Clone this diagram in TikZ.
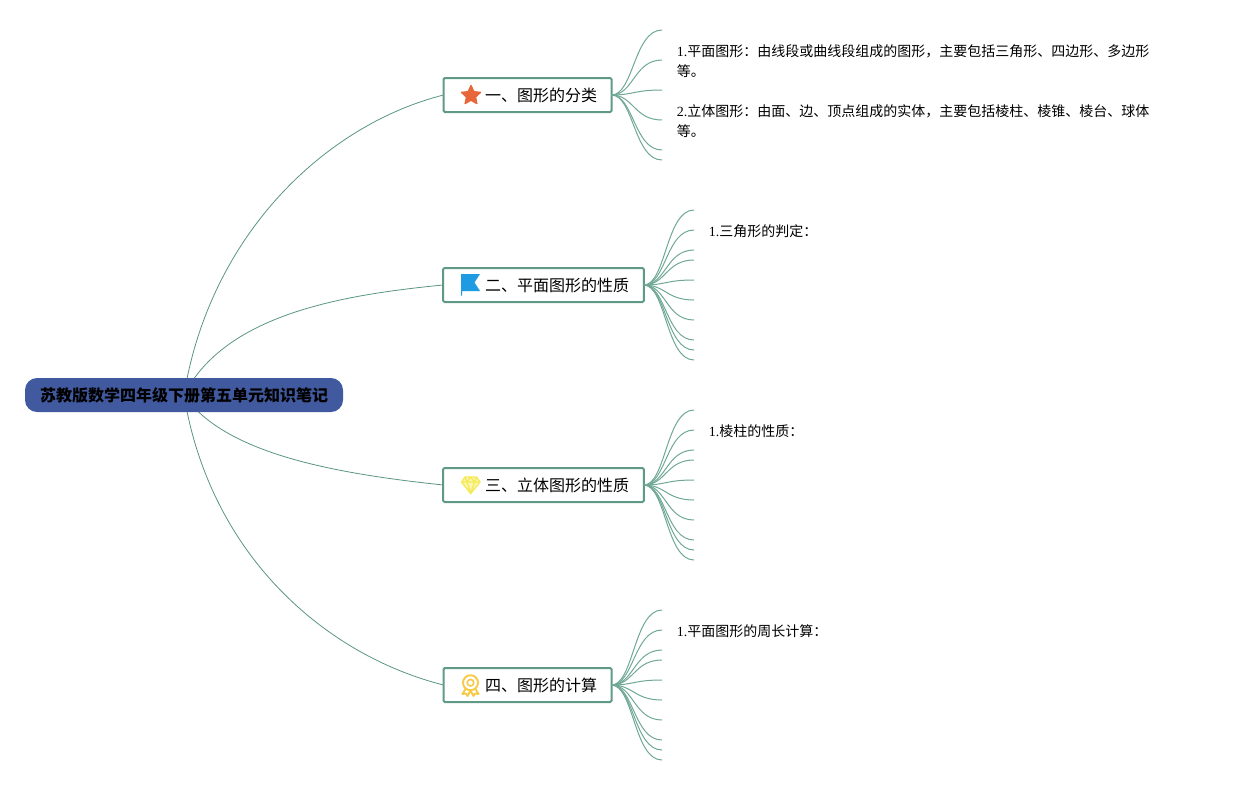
\documentclass[tikz,border=0pt]{standalone}
\usepackage{fontspec}
\setmainfont{Liberation Serif}
\newfontfamily\cjk{Noto Sans CJK SC}
\usetikzlibrary{positioning,shapes.geometric,backgrounds}
\definecolor{rootblue}{HTML}{41599F}
\definecolor{branchgreen}{HTML}{5F9A86}
\definecolor{twiggreen}{HTML}{6FA895}
\definecolor{linkgreen}{HTML}{5A9582}
\definecolor{starred}{HTML}{E8673A}
\definecolor{flagblue}{HTML}{1E9BE2}
\definecolor{gemyellow}{HTML}{F6EA55}
\definecolor{medalyellow}{HTML}{F7C945}

\begin{document}
\begin{tikzpicture}[x=0.75pt, y=0.75pt, yscale=-1, node distance=10.9pt, auto]

\tikzstyle{root} = [rectangle, fill=rootblue, rounded corners=9pt, minimum width=238.5pt,
    minimum height=25.5pt, inner sep=0pt, font=\fontsize{12}{15}\selectfont\cjk\bfseries]
\tikzstyle{topic} = [rectangle, draw=branchgreen, line width=1.5pt, fill=white, rounded corners=1pt,
    minimum height=25.5pt, text height=11.2pt, text depth=1pt, inner sep=0pt, outer sep=0pt,
    font=\fontsize{12}{15}\selectfont\cjk]
\tikzstyle{note} = [inner sep=0pt, align=left, font=\fontsize{10.5}{15}\selectfont\cjk]
\tikzstyle{link} = [draw=linkgreen, line width=0.6pt]
\tikzstyle{twig} = [draw=twiggreen, line width=0.75pt]
\tikzstyle{iconline} = [line width=1pt, line join=round]

    \useasboundingbox (0,0) rectangle (1237,785);

    % Place nodes
    \node [root] (title) at (184,395) {苏教版数学四年级下册第五单元知识笔记};
    \node [topic, minimum width=126pt] (sort) at (527.5,95) {\hspace*{20.25pt}一、图形的分类};
    \node [topic, minimum width=150.5pt] (plane) at (543.5,285) {\hspace*{20.25pt}二、平面图形的性质};
    \node [topic, minimum width=150.5pt] (solid) at (543.5,485) {\hspace*{20.25pt}三、立体图形的性质};
    \node [topic, minimum width=126pt] (calc) at (527.5,685) {\hspace*{20.25pt}四、图形的计算};

    % Draw edges
    \begin{pgfonlayer}{background}
    \path [link] (title.center) .. controls (210,235) and (325,125) .. (sort.west);
    \path [link] (title.center) .. controls (225,315) and (340,295) .. (plane.west);
    \path [link] (title.center) .. controls (225,455) and (340,474) .. (solid.west);
    \path [link] (title.center) .. controls (210,555) and (325,655) .. (calc.west);
    \end{pgfonlayer}

    % Twigs and their free ends
    \foreach \i/\y in {1/30,2/60,3/90,4/120,5/150,6/160}{
        \coordinate (sort\i) at (662,\y);
        \path [twig] (sort.east) .. controls +(22,0) and +(-28,0) .. (sort\i);
    }
    \foreach \i/\y in {1/210,2/230,3/250,4/260,5/280,6/300,7/320,8/340,9/350,10/360}{
        \coordinate (plane\i) at (694,\y);
        \path [twig] (plane.east) .. controls +(22,0) and +(-28,0) .. (plane\i);
    }
    \foreach \i/\y in {1/410,2/430,3/450,4/460,5/480,6/500,7/520,8/540,9/550,10/560}{
        \coordinate (solid\i) at (694,\y);
        \path [twig] (solid.east) .. controls +(22,0) and +(-28,0) .. (solid\i);
    }
    \foreach \i/\y in {1/610,2/630,3/650,4/660,5/680,6/700,7/720,8/740,9/750,10/760}{
        \coordinate (calc\i) at (662,\y);
        \path [twig] (calc.east) .. controls +(22,0) and +(-28,0) .. (calc\i);
    }

    % Notes
    \node [note, right=of sort2, yshift=-0.75pt] (flatnote) {{\rmfamily 1.}平面图形：由线段或曲线段组成的图形，主要包括三角形、四边形、多边形\\等。};
    \node [note, right=of sort4, yshift=-0.75pt] (solidnote) {{\rmfamily 2.}立体图形：由面、边、顶点组成的实体，主要包括棱柱、棱锥、棱台、球体\\等。};
    \node [note, right=of plane2, yshift=-0.75pt] (trinote) {{\rmfamily 1.}三角形的判定：};
    \node [note, right=of solid2, yshift=-0.75pt] (prismnote) {{\rmfamily 1.}棱柱的性质：};
    \node [note, right=of calc2, yshift=-0.75pt] (perimnote) {{\rmfamily 1.}平面图形的周长计算：};

    % Icons
    \node [star, star points=5, star point ratio=2.1, fill=starred, draw=starred, line join=round,
        line width=1pt, minimum size=15pt, inner sep=0pt] (staricon) at (471,95.5) {};

    \fill [flagblue] (461,274) -- (480,274) -- (474.5,282.5) -- (480,291) -- (462.2,291)
        -- (462.2,295.5) -- (461,295.5) -- cycle;

    \path [iconline, draw=gemyellow, fill=gemyellow!45] (465,477) -- (476.5,477) -- (480,482)
        -- (470.7,493.5) -- (461.5,482) -- cycle;
    \draw [iconline, gemyellow] (461.5,482) -- (480,482) (465,477) -- (467,482) -- (470.7,493.5)
        -- (474.5,482) -- (476.5,477) (467,482) -- (470.7,477) -- (474.5,482);

    \draw [iconline, medalyellow, line width=1.4pt] (470.5,682.7) circle (7.5);
    \draw [iconline, medalyellow, line width=1.2pt] (470.5,682.7) circle (3.3);
    \draw [iconline, medalyellow, line width=1.4pt] (465.5,689) -- (462.5,694) -- (466,693.5) -- (467.5,696)
        -- (470.5,690.5) -- (473.5,696) -- (475,693.5) -- (478.5,694) -- (475.5,689);

\end{tikzpicture}
\end{document}
